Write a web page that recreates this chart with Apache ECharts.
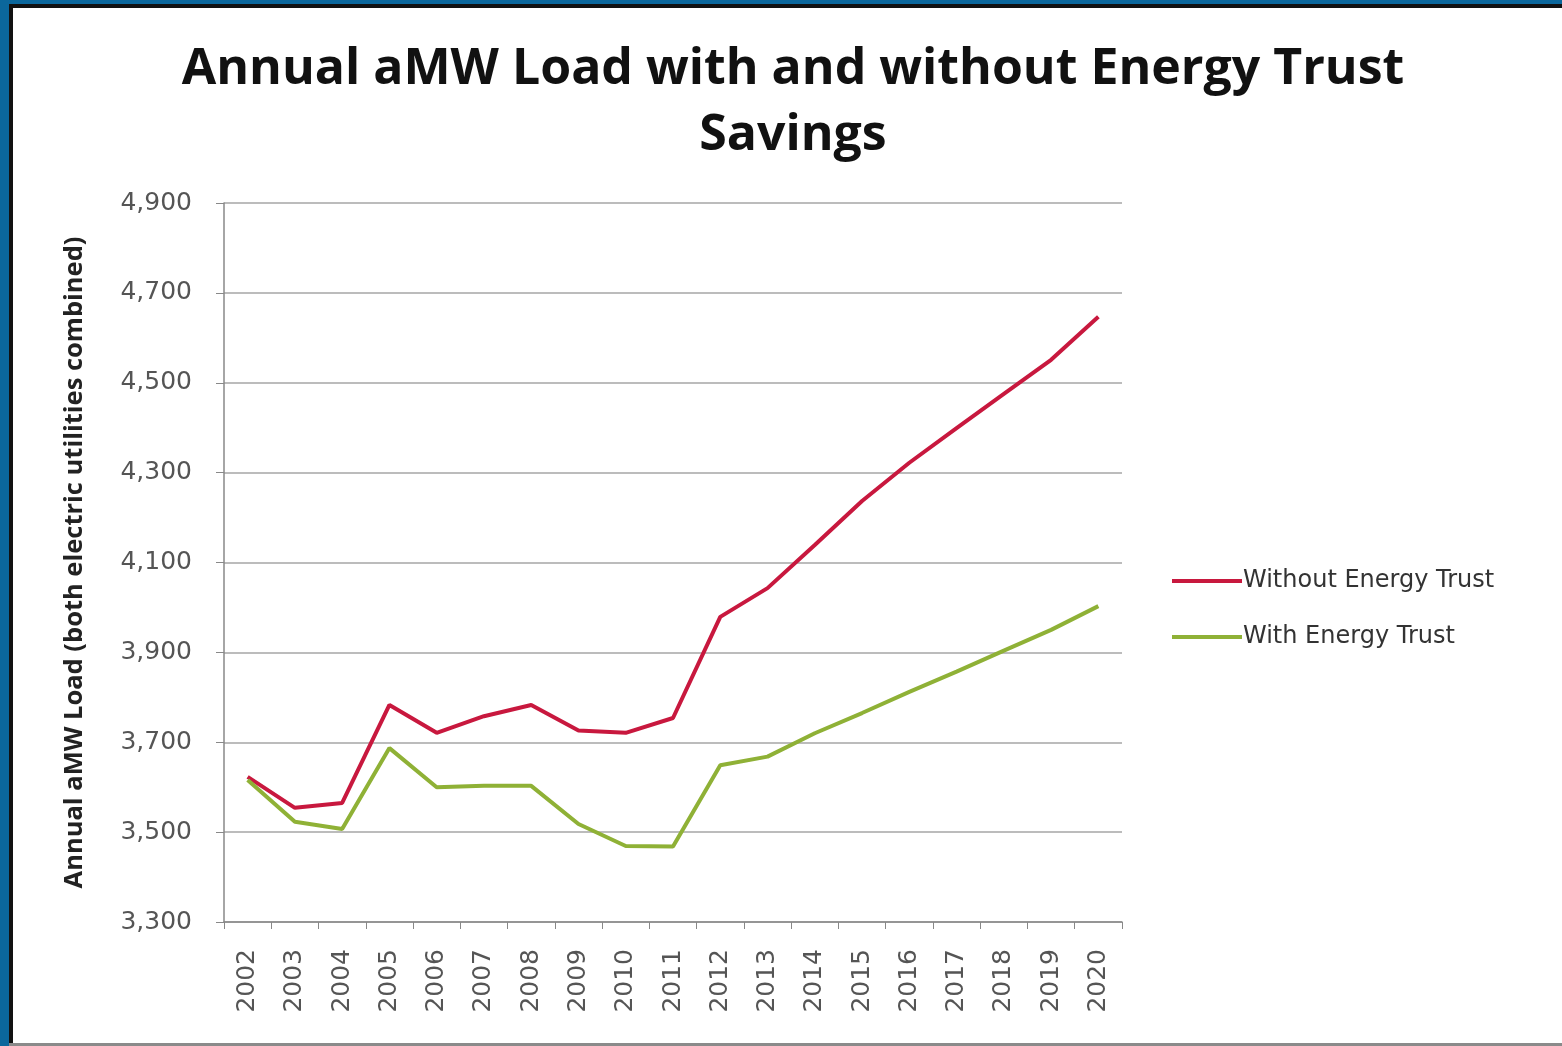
<!DOCTYPE html>
<html>
<head>
<meta charset="utf-8">
<script src="https://cdn.jsdelivr.net/npm/echarts@6/dist/echarts.min.js"></script>
<style>
  html, body { margin: 0; padding: 0; width: 1562px; height: 1046px; overflow: hidden; background: #0B679C; }
  #paper { position: absolute; left: 9px; top: 4px; right: 0; bottom: 3px; background: #ffffff; border-top: 4px solid #111; border-left: 4px solid #111; }
  #bottomline { position: absolute; left: 9px; right: 0; bottom: 0; height: 3px; background: #8a8a8a; }
  #chart { position: absolute; left: 0; top: 0; width: 1562px; height: 1046px; }
</style>
</head>
<body>
<div id="paper"></div>
<div id="bottomline"></div>
<div id="chart"></div>
<script>
const years = ['2002','2003','2004','2005','2006','2007','2008','2009','2010','2011','2012','2013','2014','2015','2016','2017','2018','2019','2020'];
const withoutEnergyTrust = [3623, 3554, 3565, 3783, 3721, 3758, 3783, 3726, 3721, 3754, 3979, 4043, 4139, 4237, 4322, 4399, 4475, 4551, 4647];
const withEnergyTrust = [3616, 3523, 3507, 3687, 3600, 3603, 3603, 3518, 3469, 3468, 3649, 3668, 3720, 3765, 3812, 3857, 3904, 3950, 4003];
const yTicks = { min: 3300, max: 4900, interval: 200 };

const chart = echarts.init(document.getElementById('chart'), null, { renderer: 'canvas' });
chart.setOption({
  backgroundColor: 'transparent',
  animation: false,
  title: {
    text: 'Annual aMW Load with and without Energy Trust\nSavings',
    left: 788,
    textAlign: 'center',
    top: 32,
    textStyle: {
      fontFamily: 'Open Sans',
      fontWeight: 'bold',
      fontSize: 50,
      lineHeight: 66,
      color: '#111111'
    }
  },
  legend: {
    orient: 'vertical',
    left: 1172,
    top: 569,
    padding: 0,
    itemWidth: 70,
    itemHeight: 14,
    itemGap: 32,
    icon: 'path://M0,5 L70,5 L70,9 L0,9 Z',
    textStyle: { fontFamily: 'DejaVu Sans', fontSize: 24, lineHeight: 24, color: '#333333', padding: [0, 0, 0, -4] },
    data: ['Without Energy Trust', 'With Energy Trust']
  },
  grid: { left: 224, right: 440, top: 203, bottom: 124, containLabel: false },
  xAxis: {
    type: 'category',
    data: years,
    boundaryGap: true,
    axisLine: { lineStyle: { color: '#888888', width: 1.5 } },
    axisTick: { show: true, alignWithLabel: false, length: 7, lineStyle: { color: '#888888' } },
    axisLabel: { rotate: 90, fontFamily: 'DejaVu Sans', fontSize: 25, color: '#555555', margin: 27 }
  },
  yAxis: {
    type: 'value',
    min: yTicks.min,
    max: yTicks.max,
    interval: yTicks.interval,
    name: 'Annual aMW Load (both electric utilities combined)',
    nameLocation: 'middle',
    nameGap: 136,
    nameTextStyle: { fontFamily: 'Open Sans', fontWeight: 'bold', fontSize: 25.5, color: '#222222' },
    axisLine: { show: true, lineStyle: { color: '#888888', width: 1.5 } },
    axisTick: { show: true, length: 8, lineStyle: { color: '#888888' } },
    axisLabel: {
      fontFamily: 'DejaVu Sans', fontSize: 25, color: '#555555', margin: 32,
      formatter: v => v.toLocaleString('en-US')
    },
    splitLine: { show: true, lineStyle: { color: '#A6A6A6', width: 1.5 } }
  },
  series: [
    {
      name: 'Without Energy Trust',
      type: 'line',
      data: withoutEnergyTrust,
      symbol: 'none',
      lineStyle: { color: '#C8183E', width: 4 },
      itemStyle: { color: '#C8183E' }
    },
    {
      name: 'With Energy Trust',
      type: 'line',
      data: withEnergyTrust,
      symbol: 'none',
      lineStyle: { color: '#8FB136', width: 4 },
      itemStyle: { color: '#8FB136' }
    }
  ]
});
</script>
</body>
</html>
